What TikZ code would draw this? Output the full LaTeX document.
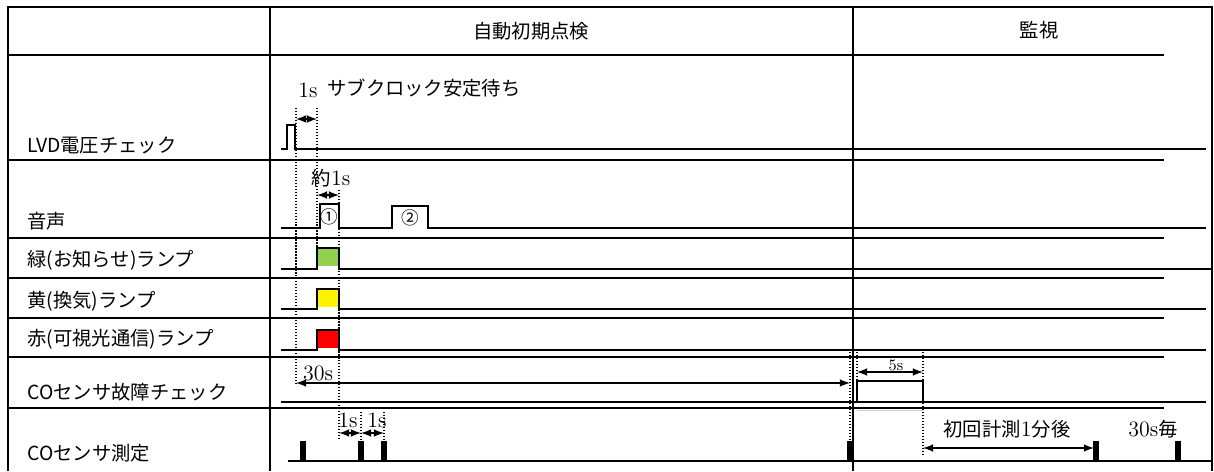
\documentclass[tikz,border=0pt]{standalone}
\usepackage{fontspec}
\newfontfamily\jp{Noto Sans CJK JP}
\usepackage{tikz}
\usetikzlibrary{arrows}

\begin{document}
\begin{tikzpicture}[x=0.02cm,y=-0.02cm,
	grid_line/.style={line width=0.8pt},
	sig_line/.style={line width=0.8pt},
	dot_line/.style={densely dotted,line width=0.7pt},
	dim_arrow/.style={latex-latex,line width=1pt},
	tick_mark/.style={line width=3pt},
	row_label/.style={anchor=west,inner sep=0pt,font=\jp\fontsize{11}{13}\selectfont},
	txt/.style={inner sep=0pt,font=\fontsize{12.5}{14}\selectfont}]

		\useasboundingbox (0,0) rectangle (1214,471);

		% table
		\draw[grid_line] (8,471) -- (8,7) -- (1212,7) -- (1212,471);
		\draw[grid_line] (270,7) -- (270,471);
		\draw[grid_line] (853,7) -- (853,471);
		\foreach \y in {55,160,238,278,318,357,408}
			\draw[grid_line] (8,\y) -- (1164,\y);

		\node[txt,font=\jp\fontsize{11}{13}\selectfont] (hdr_check) at (531,31) {自動初期点検};
		\node[txt,font=\jp\fontsize{11}{13}\selectfont] (hdr_watch) at (1039,30) {監視};

		\node[row_label] (lvd) at (27,145) {LVD電圧チェック};
		\node[row_label] (snd) at (27,221) {音声};
		\node[row_label] (green) at (27,260) {緑(お知らせ)ランプ};
		\node[row_label] (yellow) at (27,301) {黄(換気)ランプ};
		\node[row_label] (red) at (27,339) {赤(可視光通信)ランプ};
		\node[row_label] (cofail) at (27,392) {COセンサ故障チェック};
		\node[row_label] (comeas) at (27,453) {COセンサ測定};

		% signals
		\fill[fill={rgb,255:red,146;green,208;blue,80}] (317,248) rectangle (339,266);
		\fill[yellow] (317,289) rectangle (339,307);
		\fill[red] (317,330) rectangle (339,348);
		\draw[sig_line] (281,149) -- (287,149) -- (287,125) -- (295,125) -- (295,149) -- (1206,149);
		\draw[sig_line] (281,228) -- (320,228) -- (320,204) -- (339,204) -- (339,228) -- (392,228)
			-- (392,206) -- (428,206) -- (428,228) -- (1206,228);
		\draw[sig_line] (281,269) -- (317,269) -- (317,248) -- (339,248) -- (339,269) -- (1212,269);
		\draw[sig_line] (281,309) -- (317,309) -- (317,289) -- (339,289) -- (339,309) -- (1206,309);
		\draw[sig_line] (281,350) -- (317,350) -- (317,330) -- (339,330) -- (339,350) -- (1206,350);
		\draw[sig_line] (281,402) -- (1206,402);
		\draw[sig_line] (857,402) -- (857,381) -- (923,381) -- (923,402);
		\draw[gray!40] (857,410) -- (923,410);
		\draw[sig_line] (288,461) -- (1212,461);
		\foreach \x in {303,361,384,850,1096,1178}
			\draw[tick_mark] (\x,441) -- (\x,460);

		% dotted guides
		\draw[dot_line] (296,108) -- (296,385);
		\draw[dot_line] (317,108) -- (317,250);
		\draw[dot_line] (339,190) -- (339,440);
		\draw[dot_line] (361,412) -- (361,441);
		\draw[dot_line] (384,412) -- (384,441);
		\draw[dot_line] (850,352) -- (850,441);
		\draw[dot_line] (857,352) -- (857,381);
		\draw[dot_line] (923,352) -- (923,455);

		% arrows
		\coordinate (lvd_a) at (296,119);
		\coordinate (lvd_b) at (317,119);
		\coordinate (snd_a) at (317,195);
		\coordinate (snd_b) at (339,195);
		\coordinate (co_a) at (296,383);
		\coordinate (co_b) at (850,383);
		\coordinate (five_a) at (857,372);
		\coordinate (five_b) at (923,372);
		\coordinate (m_1) at (339,433);
		\coordinate (m_2) at (361,433);
		\coordinate (m_3) at (384,433);
		\coordinate (first_a) at (923,448);
		\coordinate (first_b) at (1094,448);

		\draw[dim_arrow] (lvd_a) -- (lvd_b);
		\draw[dim_arrow] (snd_a) -- (snd_b);
		\draw[dim_arrow] (co_a) -- (co_b);
		\draw[dim_arrow] (five_a) -- (five_b);
		\draw[dim_arrow] (m_1) -- (m_2);
		\draw[dim_arrow] (m_2) -- (m_3);
		\draw[dim_arrow] (first_a) -- (first_b);

		% labels
		\node[txt] (lvd_1s) at (308,90) {1s};
		\node[txt,anchor=west] (lvd_wait) at (327,88) {\jp\fontsize{11}{13}\selectfont サブクロック安定待ち};
		\node[txt] (snd_1s) at (331,178) {{\jp\fontsize{11}{13}\selectfont 約}1s};
		\node[txt,font=\jp\fontsize{10}{12}\selectfont] (snd_one) at (329,217) {①};
		\node[txt,font=\jp\fontsize{10}{12}\selectfont] (snd_two) at (410,218) {②};
		\node[txt] (co_30s) at (318,373) {30s};
		\node[txt,font=\fontsize{9}{10}\selectfont] (five) at (896,365) {5s};
		\node[txt] (m_1s_a) at (348,420) {1s};
		\node[txt] (m_1s_b) at (377,420) {1s};
		\node[txt] (first) at (1007,429) {{\jp\fontsize{11}{13}\selectfont 初回計測}1{\jp\fontsize{11}{13}\selectfont 分後}};
		\node[txt] (every) at (1153,429) {30s{\jp\fontsize{11}{13}\selectfont 毎}};
		\end{tikzpicture}
\end{document}
